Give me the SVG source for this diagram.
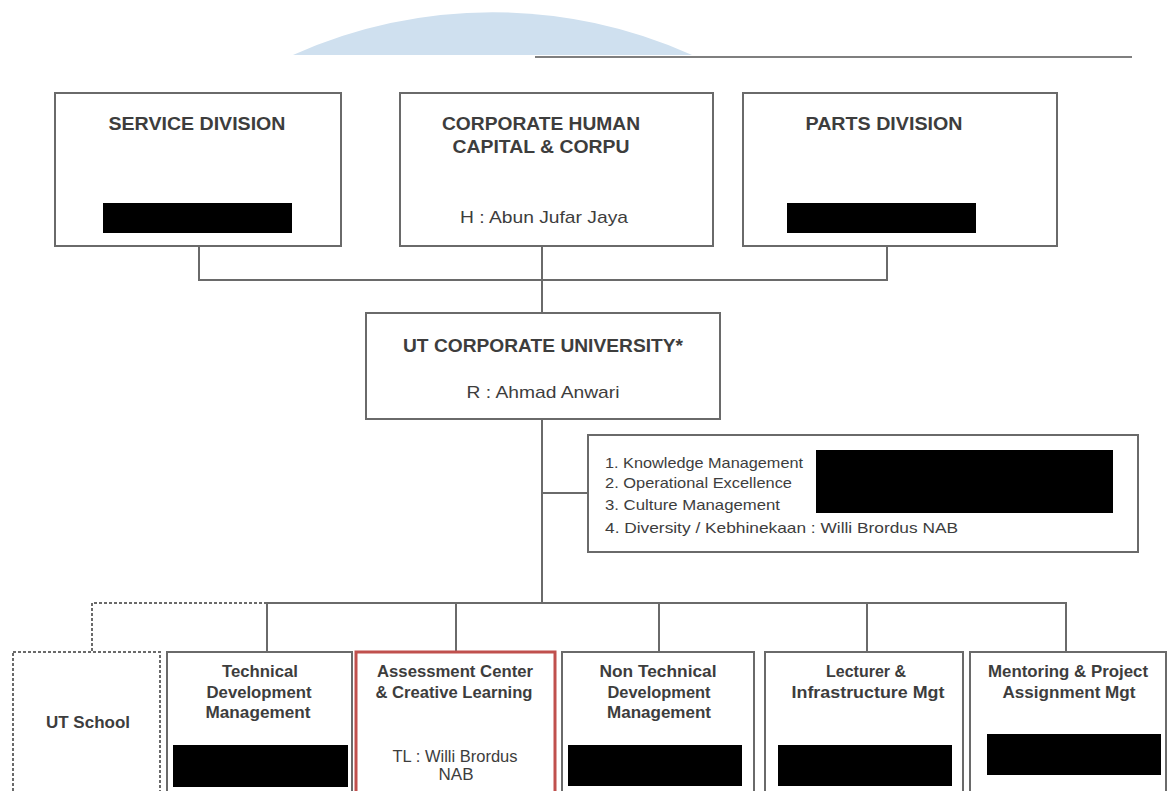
<svg xmlns="http://www.w3.org/2000/svg" width="1174" height="791" viewBox="0 0 1174 791">
<style>
.box{fill:#fff;stroke:#6a6a6a;stroke-width:2}
.dash{fill:#fff;stroke:#6a6a6a;stroke-width:2;stroke-dasharray:3 2}
.red{fill:#fff;stroke:#c0504d;stroke-width:3}
.bar{fill:#000}
text{font-family:"Liberation Sans",Arial,sans-serif;fill:#3d3d3d}
.t{font-weight:bold;font-size:18px;text-anchor:middle}
.s{font-weight:bold;font-size:16.5px;text-anchor:middle}
.n{font-size:17px;text-anchor:middle}
.l{font-size:15px}
.c{fill:none;stroke:#6a6a6a;stroke-width:2}
.cd{fill:none;stroke:#6a6a6a;stroke-width:2;stroke-dasharray:3 2}
</style>
<rect width="1174" height="791" fill="#fff"/>
<path d="M293,55 A487,487 0 0 1 692,55 Z" fill="#cfe0ef"/>
<line x1="535" y1="57" x2="1132" y2="57" stroke="#555" stroke-width="1.5"/>
<g id="connectors">
<path class="c" d="M199,246 V280 H887 V246"/>
<path class="c" d="M542,246 V313"/>
<path class="c" d="M542,419 V603"/>
<path class="c" d="M542,493 H588"/>
<path class="c" d="M267,652 V603 H1066 V652"/>
<path class="c" d="M456,603 V652"/>
<path class="c" d="M659,603 V652"/>
<path class="c" d="M867,603 V652"/>
<path class="cd" d="M267,603 H92 V652"/>
</g>
<g id="service-division">
<rect class="box" x="55" y="93" width="286" height="153"/>
<text class="t" x="197" y="130" textLength="177" lengthAdjust="spacingAndGlyphs">SERVICE  DIVISION</text>
<rect class="bar" x="103" y="203" width="189" height="30"/>
</g>
<g id="corporate-hc">
<rect class="box" x="400" y="93" width="313" height="153"/>
<text class="t" x="541" y="130" textLength="198" lengthAdjust="spacingAndGlyphs">CORPORATE HUMAN</text>
<text class="t" x="541" y="153" textLength="177" lengthAdjust="spacingAndGlyphs">CAPITAL &amp; CORPU</text>
<text class="n" x="544" y="223" textLength="168" lengthAdjust="spacingAndGlyphs">H : Abun Jufar Jaya</text>
</g>
<g id="parts-division">
<rect class="box" x="743" y="93" width="314" height="153"/>
<text class="t" x="884" y="130" textLength="157" lengthAdjust="spacingAndGlyphs">PARTS  DIVISION</text>
<rect class="bar" x="787" y="203" width="189" height="30"/>
</g>
<g id="ut-corpu">
<rect class="box" x="366" y="313" width="354" height="106"/>
<text class="t" x="543" y="352" textLength="280" lengthAdjust="spacingAndGlyphs">UT CORPORATE UNIVERSITY*</text>
<text class="n" x="543" y="398" textLength="153" lengthAdjust="spacingAndGlyphs">R : Ahmad Anwari</text>
</g>
<g id="functions">
<rect class="box" x="588" y="435" width="550" height="117"/>
<text class="l" x="605" y="468" textLength="198" lengthAdjust="spacingAndGlyphs">1. Knowledge  Management</text>
<text class="l" x="605" y="488" textLength="187" lengthAdjust="spacingAndGlyphs">2. Operational  Excellence</text>
<text class="l" x="605" y="510" textLength="175" lengthAdjust="spacingAndGlyphs">3. Culture Management</text>
<text class="l" x="605" y="533" textLength="353" lengthAdjust="spacingAndGlyphs">4. Diversity / Kebhinekaan   : Willi Brordus  NAB</text>
<rect class="bar" x="816" y="450" width="297" height="63"/>
</g>
<g id="ut-school">
<rect class="dash" x="13" y="652" width="147" height="145"/>
<text class="s" x="88" y="728" textLength="84" lengthAdjust="spacingAndGlyphs">UT School</text>
</g>
<g id="technical">
<rect class="box" x="167" y="652" width="185" height="145"/>
<text class="s" x="260" y="677" textLength="76" lengthAdjust="spacingAndGlyphs">Technical</text>
<text class="s" x="259" y="698" textLength="105" lengthAdjust="spacingAndGlyphs">Development</text>
<text class="s" x="258" y="718" textLength="105" lengthAdjust="spacingAndGlyphs">Management</text>
<rect class="bar" x="173" y="745" width="175" height="42"/>
</g>
<g id="assessment">
<rect class="red" x="356" y="652" width="199" height="145"/>
<text class="s" x="455" y="677" textLength="156" lengthAdjust="spacingAndGlyphs">Assessment  Center</text>
<text class="s" x="454" y="698" textLength="157" lengthAdjust="spacingAndGlyphs">&amp; Creative Learning</text>
<text class="n" x="455" y="762" textLength="125" lengthAdjust="spacingAndGlyphs">TL : Willi Brordus</text>
<text class="n" x="456" y="780">NAB</text>
</g>
<g id="non-technical">
<rect class="box" x="562" y="652" width="192" height="145"/>
<text class="s" x="658" y="677" textLength="117" lengthAdjust="spacingAndGlyphs">Non Technical</text>
<text class="s" x="659" y="698" textLength="103" lengthAdjust="spacingAndGlyphs">Development</text>
<text class="s" x="659" y="718" textLength="104" lengthAdjust="spacingAndGlyphs">Management</text>
<rect class="bar" x="568" y="745" width="174" height="41"/>
</g>
<g id="lecturer">
<rect class="box" x="765" y="652" width="198" height="145"/>
<text class="s" x="866" y="677" textLength="80" lengthAdjust="spacingAndGlyphs">Lecturer &amp;</text>
<text class="s" x="868" y="698" textLength="153" lengthAdjust="spacingAndGlyphs">Infrastructure Mgt</text>
<rect class="bar" x="778" y="745" width="174" height="41"/>
</g>
<g id="mentoring">
<rect class="box" x="970" y="652" width="196" height="145"/>
<text class="s" x="1068" y="677" textLength="160" lengthAdjust="spacingAndGlyphs">Mentoring &amp; Project</text>
<text class="s" x="1069" y="698" textLength="133" lengthAdjust="spacingAndGlyphs">Assignment  Mgt</text>
<rect class="bar" x="987" y="734" width="174" height="41"/>
</g>
</svg>
